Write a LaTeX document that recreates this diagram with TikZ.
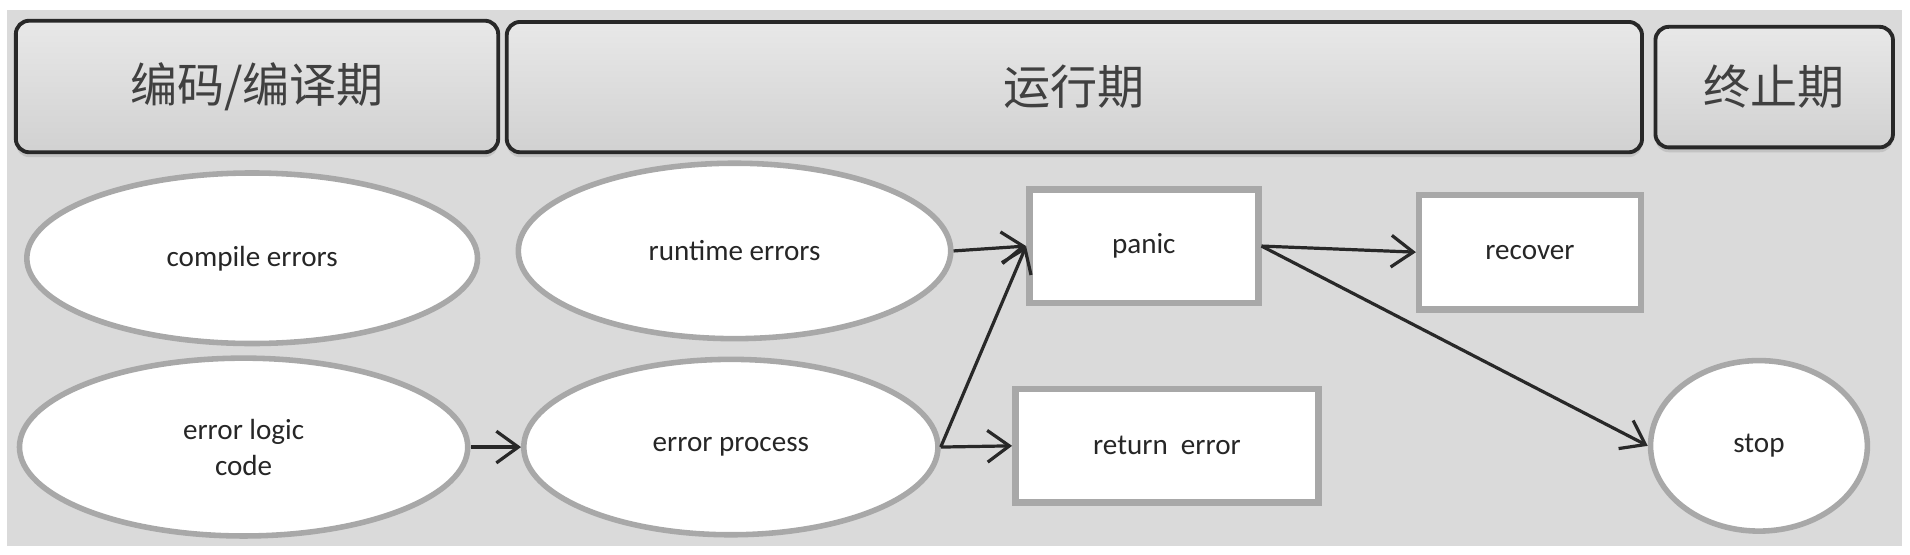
\documentclass[tikz,border=0pt]{standalone}
\usepackage{fontspec}
\setmainfont{Carlito}
\newfontfamily\cjk{Noto Sans CJK SC}
\usepackage{tikz}
\usetikzlibrary{shapes.geometric,arrows.meta,shadows}

\definecolor{bggray}{RGB}{218,218,218}
\definecolor{edgegray}{RGB}{168,168,168}
\definecolor{inkgray}{RGB}{40,40,40}

\tikzset{
  phase/.style={draw=inkgray,line width=0.9pt,rounded corners=0.11cm,
    top color=black!9,bottom color=black!18,
    drop shadow={opacity=0.25,shadow xshift=0cm,shadow yshift=-0.04cm},
    inner sep=0pt,font=\cjk\fontsize{11pt}{13pt}\selectfont,text=black!75},
  oval/.style={draw=edgegray,line width=1.3pt,fill=white,ellipse,inner sep=0pt,
    align=center,font=\fontsize{6.8pt}{8.4pt}\selectfont,text=black!85},
  act/.style={draw=edgegray,line width=1.5pt,fill=white,rectangle,inner sep=0pt,
    font=\fontsize{6.8pt}{8.4pt}\selectfont,text=black!85},
  flow/.style={draw=inkgray,line width=0.75pt,-{Straight Barb[length=1.8mm,width=2.6mm]}}
}

\begin{document}
\begin{tikzpicture}
\useasboundingbox (0,0) rectangle (15.68,4.55);
\fill[bggray] (0.06,0.07) rectangle (15.61,4.47);
% phases
\node[phase,minimum width=3.96cm,minimum height=1.08cm] (code) at (2.11,3.84) {编码/编译期};
\node[phase,minimum width=9.32cm,minimum height=1.07cm] (run) at (8.82,3.835) {运行期};
\node[phase,minimum width=1.95cm,minimum height=0.99cm] (end) at (14.565,3.835) {终止期};
% errors
\node[oval,minimum width=3.70cm,minimum height=1.40cm] (compile) at (2.07,2.43) {compile errors};
\node[oval,minimum width=3.55cm,minimum height=1.44cm] (runtime) at (6.03,2.49) {runtime errors};
\node[oval,minimum width=3.68cm,minimum height=1.46cm] (logic) at (2.00,0.88) {error logic\\code};
\node[oval,minimum width=3.40cm,minimum height=1.44cm] (process) at (6.00,0.88) {error process};
\node[act,minimum width=1.88cm,minimum height=0.93cm] (panic) at (9.39,2.53) {panic};
\node[act,minimum width=1.82cm,minimum height=0.94cm] (recover) at (12.56,2.48) {recover};
\node[act,minimum width=2.49cm,minimum height=0.93cm] (return) at (9.58,0.89) {return~ error};
\node[oval,minimum width=1.78cm,minimum height=1.40cm] (stop) at (14.44,0.89) {stop};
% arrows
\draw[flow] (logic) -- (process);
\draw[flow] (runtime.east) -- (panic.west);
\draw[flow] (process.east) -- (panic.west);
\draw[flow] (process.east) -- (return.west);
\draw[flow] (panic.east) -- (recover.west);
\draw[flow] (panic.east) -- (stop.west);
\end{tikzpicture}
\end{document}
